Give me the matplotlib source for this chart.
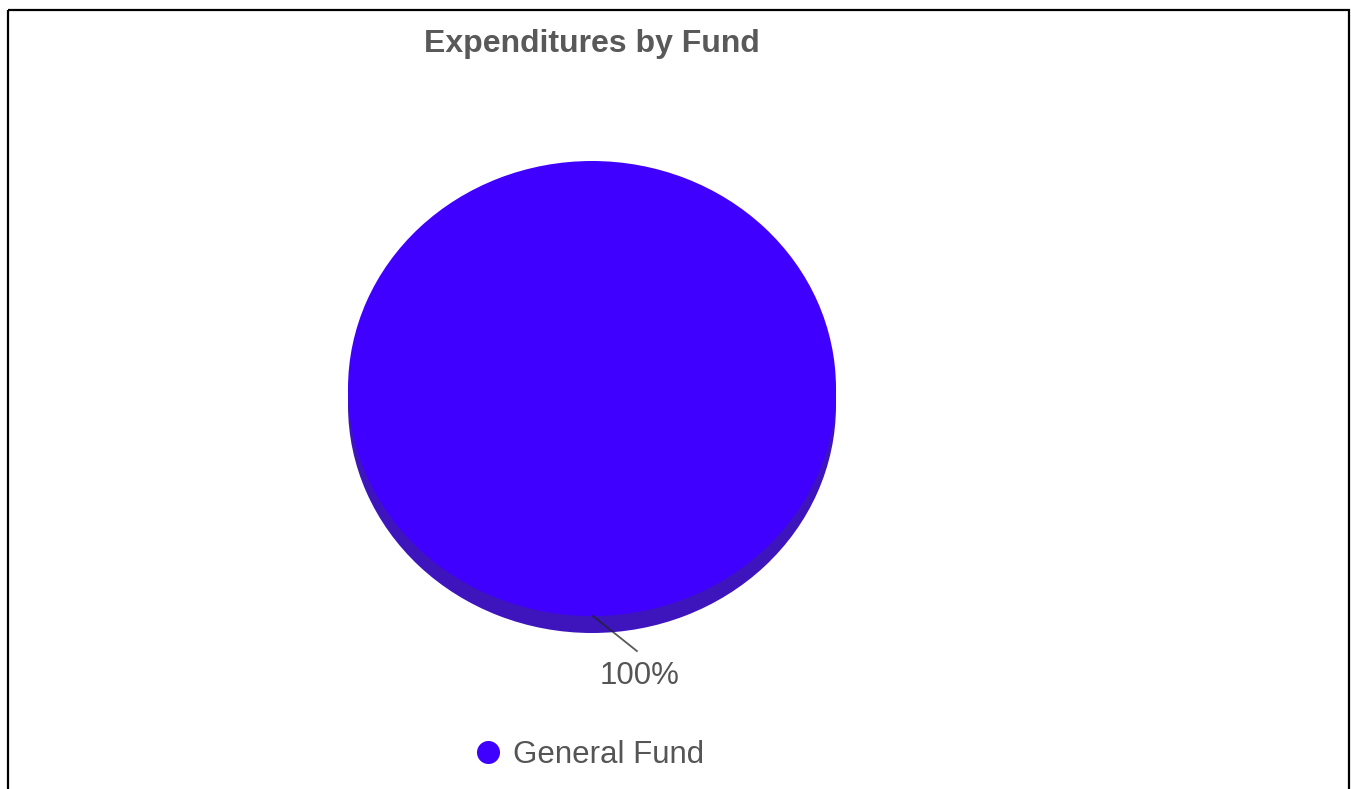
import matplotlib
matplotlib.use("Agg")
import matplotlib.pyplot as plt
from matplotlib.patches import Rectangle

plt.rcParams['font.family'] = ['Liberation Sans', 'DejaVu Sans']

# data
funds = ['General Fund']
amounts = [100.0]
colors = ['#4000ff']
side_colors = ['#3e14bd']
title = 'Expenditures by Fund'

W, H = 1351, 789
fig = plt.figure(figsize=(W / 100, H / 100), dpi=100)

# overlay in pixel coordinates for frame, title and legend
bg = fig.add_axes([0, 0, 1, 1], zorder=0)
bg.set_xlim(0, W)
bg.set_ylim(H, 0)
bg.axis('off')
bg.add_patch(Rectangle((8, 10), 1341, H + 20, fill=False, edgecolor='black', lw=1.6))
bg.text(592, 44, title, ha='center', va='center', fontsize=23, fontweight='bold', color='#595959')

# pie, top face ellipse
cx, cy, rx, ry = 592, 388.5, 244, 227.5
depth = 17 / ry
ax = fig.add_axes([(cx - 1.2 * rx) / W, (H - cy - 1.2 * ry) / H, 2.4 * rx / W, 2.4 * ry / H], zorder=1)

# side (3d depth)
ax.pie(amounts, colors=side_colors, center=(0, -depth), startangle=90, counterclock=False,
       wedgeprops=dict(linewidth=0))
ax.add_patch(Rectangle((-1, -depth), 2, depth, color=side_colors[0], lw=0))
# top face
ax.pie(amounts, colors=colors, center=(0, 0), startangle=90, counterclock=False,
       wedgeprops=dict(linewidth=0))
ax.set_aspect('auto')
ax.set_xlim(-1.2, 1.2)
ax.set_ylim(-1.2, 1.2)
ax.axis('off')

# label with leader line
total = sum(amounts)
pct = '%d%%' % round(amounts[0] / total * 100)
ax.plot([0.004, 0.184], [-1.0, -1.154], color='#222222', alpha=0.75, lw=1.3, clip_on=False)
ax.text(0.193, -1.263, pct, ha='center', va='center', fontsize=22.5, color='#555555', clip_on=False)

# legend
bg.scatter([488], [752], s=23 ** 2 * 0.52, color=colors[0], marker='o', lw=0)
bg.text(513, 755, funds[0], ha='left', va='center', fontsize=22.5, color='#555555')

fig.savefig('out.png', dpi=100)
